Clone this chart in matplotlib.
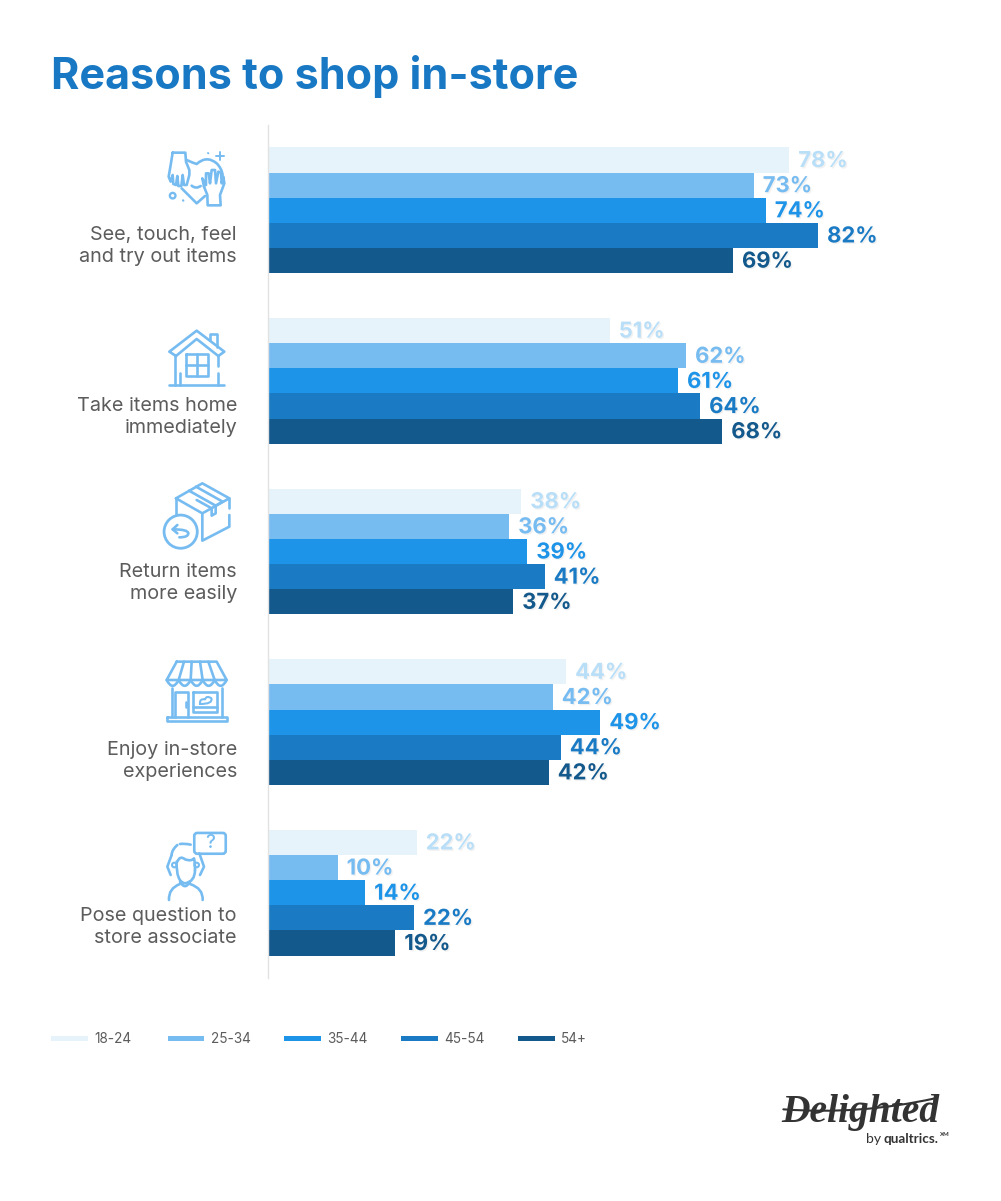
import matplotlib
matplotlib.use("Agg")
import matplotlib.pyplot as plt
import matplotlib.patheffects as pe
from matplotlib.patches import Circle, FancyBboxPatch, Rectangle, PathPatch
from matplotlib.path import Path
import numpy as np

# === Data === #
categories = ["See, touch, feel\nand try out items", "Take items home\nimmediately",
              "Return items\nmore easily", "Enjoy in-store\nexperiences",
              "Pose question to\nstore associate"]
age_groups = ["18-24", "25-34", "35-44", "45-54", "54+"]
# printed labels
pct_18_24 = [78, 51, 38, 44, 22]
pct_25_34 = [73, 62, 36, 42, 10]
pct_35_44 = [74, 61, 39, 49, 14]
pct_45_54 = [82, 64, 41, 44, 22]
pct_54_up = [69, 68, 37, 42, 19]
labels = [pct_18_24, pct_25_34, pct_35_44, pct_45_54, pct_54_up]
# bar lengths as drawn in the picture (they differ a little from the printed labels)
bar_18_24 = [77.8, 51.0, 37.8, 44.5, 22.2]
bar_25_34 = [72.5, 62.4, 36.0, 42.5, 10.4]
bar_35_44 = [74.3, 61.2, 38.7, 49.6, 14.5]
bar_45_54 = [82.1, 64.5, 41.3, 43.7, 21.8]
bar_54_up = [69.4, 67.8, 36.6, 41.9, 19.0]
bars = [bar_18_24, bar_25_34, bar_35_44, bar_45_54, bar_54_up]

bar_colors = ["#e6f3fb", "#77bcf1", "#1e94e8", "#1a7bc4", "#14598c"]
text_colors = ["#b9dff8", "#77bcf1", "#1e94e8", "#1a7bc4", "#14598c"]
ICON = "#77bcf1"
GREY = "#5c5c5c"
W, H = 1001, 1201
PX = 100 / 72  # pixels per point at dpi 100

plt.rcParams["font.family"] = ["Inter", "DejaVu Sans"]
fig = plt.figure(figsize=(W / 100, H / 100), dpi=100, facecolor="white")

# === Bars === #
ax = fig.add_axes([268 / W, 1 - 978 / H, (W - 268) / W, 853 / H])
ax.set_xlim(0, (W - 268) / 6.7)
ax.set_ylim(4.5, -0.5)
bar_h = 25.15 / (853 / 5)
y_pos = np.arange(len(categories))
for i, vals in enumerate(bars):
    y = y_pos + (i - 2) * bar_h
    ax.barh(y, vals, height=bar_h, color=bar_colors[i], linewidth=0)
    for yy, v, lab in zip(y, vals, labels[i]):
        ax.annotate(f"{lab}%", (v, yy), xytext=(9, -1), textcoords="offset pixels",
                    ha="left", va="center", color=text_colors[i], fontsize=22 / PX,
                    fontweight="bold",
                    path_effects=[pe.withSimplePatchShadow(offset=(1, -1), alpha=0.10,
                                                           shadow_rgbFace="#777777")])
for s in ["top", "right", "bottom"]:
    ax.spines[s].set_visible(False)
ax.spines["left"].set_color("#e2e2e2")
ax.spines["left"].set_linewidth(1.0)
ax.set_xticks([])
ax.set_yticks([])
ax.patch.set_alpha(0)

# === Overlay in pixel units for text and icons === #
ov = fig.add_axes([0, 0, 1, 1])
ov.set_xlim(0, W)
ov.set_ylim(H, 0)
ov.axis("off")
ov.patch.set_alpha(0)

ov.text(51, 89, "Reasons to shop in-store", fontsize=43.1 / PX, fontweight="bold",
        color="#1878c4", ha="left", va="baseline")

label_y = [246, 417, 583, 761, 927]
for lab, ly in zip(categories, label_y):
    ov.text(237, ly, lab, ha="right", va="center", fontsize=19.8 / PX, color=GREY,
            linespacing=1.28, multialignment="right")

# Legend
leg_x = [51, 167.5, 284, 401, 518]
for x, lab, c in zip(leg_x, age_groups, bar_colors):
    ov.add_patch(Rectangle((x, 1035.5), 36.5, 5.5, color=c, linewidth=0))
    ov.text(x + 43, 1039, lab, ha="left", va="center", fontsize=13.6 / PX, color=GREY)


def line(pts, ox, oy, closed=False, lw=1.9, color=ICON):
    # pts were read in 3x zoom coordinates
    xs = [ox + p[0] / 3 for p in pts]
    ys = [oy + p[1] / 3 for p in pts]
    if closed:
        xs.append(xs[0])
        ys.append(ys[0])
    ov.plot(xs, ys, color=color, lw=lw, solid_capstyle="round", solid_joinstyle="round")


def curve(pts, ox, oy, lw=1.9, color=ICON):
    # quadratic chain: start, ctrl, end, ctrl, end ...
    verts = [(ox + p[0] / 3, oy + p[1] / 3) for p in pts]
    codes = [Path.MOVETO] + [Path.CURVE3] * (len(verts) - 1)
    ov.add_patch(PathPatch(Path(verts, codes), fill=False, edgecolor=color, lw=lw,
                           capstyle="round", joinstyle="round"))


# Icon: hands + heart
ox, oy = 40, 120
line([(398, 98), (436, 98), (438, 125), (448, 150), (448, 165), (440, 195), (432, 195),
      (428, 165), (424, 198), (415, 198), (412, 168), (408, 195), (400, 192), (398, 165),
      (392, 185), (386, 170), (392, 135), (398, 98)], ox, oy)
curve([(440, 120), (462, 130), (470, 132), (500, 105), (530, 130), (545, 145), (548, 165)], ox, oy)
line([(425, 205), (470, 250), (495, 228)], ox, oy)
line([(492, 200), (487, 175), (498, 195), (498, 160), (506, 160), (510, 190), (515, 150),
      (525, 150), (528, 190), (535, 155), (543, 158), (545, 190), (550, 170), (553, 190),
      (540, 225), (542, 256), (503, 256), (502, 225), (492, 200)], ox, oy)
curve([(455, 197), (468, 208), (482, 198)], ox, oy)
line([(540, 95), (540, 120)], ox, oy, lw=1.4)
line([(527, 107), (553, 107)], ox, oy, lw=1.4)
line([(504, 99), (505, 100)], ox, oy, lw=1.4)
line([(429, 241), (430, 242)], ox, oy, lw=1.6)
ov.add_patch(Circle((40 + 398 / 3, 120 + 227 / 3), 2.8, fill=False, edgecolor=ICON, lw=1.7))

# Icon: house
line([(408, 708), (388, 695), (470, 632), (553, 695), (535, 708), (470, 657), (408, 708)], ox, oy)
line([(510, 660), (510, 642), (532, 642), (532, 680)], ox, oy)
line([(405, 708), (405, 795)], ox, oy)
line([(421, 760), (421, 795)], ox, oy)
line([(533, 708), (533, 738)], ox, oy)
line([(533, 760), (533, 795)], ox, oy)
line([(388, 795), (553, 795)], ox, oy)
line([(437, 703), (503, 703), (503, 768), (437, 768)], ox, oy, closed=True)
line([(470, 703), (470, 768)], ox, oy)
line([(437, 736), (503, 736)], ox, oy)

# Icon: box with return arrow
oy = 480
line([(408, 55), (487, 10), (568, 55), (487, 100)], ox, oy, closed=True)
line([(408, 55), (408, 105)], ox, oy)
line([(487, 100), (487, 182), (568, 140), (568, 105)], ox, oy)
line([(568, 85), (568, 55)], ox, oy)
line([(447, 32), (527, 77), (527, 100), (515, 107), (515, 85), (470, 60)], ox, oy)
line([(468, 20), (548, 65), (527, 77)], ox, oy)
ov.add_patch(Circle((40 + 422 / 3, 480 + 155 / 3), 16.6, facecolor="white", edgecolor=ICON, lw=2, zorder=3))
line([(412, 135), (398, 148), (412, 160)], ox, oy)
ov.lines[-1].set_zorder(4)
curve([(398, 148), (445, 148), (445, 160), (445, 172), (418, 172)], ox, oy)
ov.patches[-1].set_zorder(4)

# Icon: store front
line([(410, 545), (530, 545), (560, 600), (380, 600)], ox, oy, closed=True)
for xt, xb in [(432, 416), (455, 452), (480, 488), (505, 524)]:
    line([(xt, 545), (xb, 600)], ox, oy)
for xa in [380, 416, 452, 488, 524]:
    curve([(xa, 600), (xa + 18, 635), (xa + 36, 600)], ox, oy)
line([(395, 625), (395, 710)], ox, oy)
line([(545, 625), (545, 710)], ox, oy)
line([(380, 712), (560, 712), (560, 722), (380, 722)], ox, oy, closed=True)
line([(405, 710), (405, 636), (445, 636), (445, 710)], ox, oy)
line([(437, 665), (437, 680)], ox, oy)
line([(458, 636), (532, 636), (532, 695), (458, 695)], ox, oy, closed=True)
line([(458, 682), (532, 682)], ox, oy)
curve([(480, 672), (478, 655), (495, 658), (500, 645), (514, 655), (520, 672), (480, 672)], ox, oy, lw=1.5)

# Icon: person with speech bubble
oy = 820
ov.add_patch(FancyBboxPatch((40 + 470 / 3, 820 + 46 / 3), 80 / 3, 48 / 3, boxstyle="round,pad=2.4,rounding_size=3",
                            fill=False, edgecolor=ICON, lw=1.9))
ov.text(40 + 511 / 3, 820 + 70 / 3, "?", ha="center", va="center", fontsize=19 / PX, color=ICON, fontweight="medium")
curve([(412, 75), (395, 90), (395, 105)], ox, oy)
curve([(420, 72), (435, 70), (452, 74)], ox, oy)
line([(395, 105), (382, 140), (392, 165)], ox, oy)
line([(478, 100), (492, 140), (480, 165)], ox, oy)
curve([(412, 125), (420, 105), (435, 118), (455, 125), (462, 115), (465, 125), (465, 150)], ox, oy)
curve([(410, 125), (408, 185), (435, 190), (465, 185), (465, 150)], ox, oy)
ov.add_patch(Circle((40 + 403 / 3, 820 + 135 / 3), 2.3, fill=False, edgecolor=ICON, lw=1.5))
ov.add_patch(Circle((40 + 470 / 3, 820 + 135 / 3), 2.3, fill=False, edgecolor=ICON, lw=1.5))
curve([(420, 185), (435, 212), (450, 185)], ox, oy)
curve([(387, 240), (385, 205), (420, 192)], ox, oy)
curve([(488, 240), (490, 205), (450, 192)], ox, oy)

# Logo
ov.text(781, 1122, "Delighted", ha="left", va="baseline", fontsize=39.5 / PX, color="#333333",
        family=["Liberation Serif"], fontweight="bold", fontstyle="italic")
curve([(70, 118), (300, 135), (525, 85)], 760, 1070, lw=1.5, color="#333333")
ov.text(866, 1143, "by", ha="left", va="baseline", fontsize=14 / PX, color="#333333",
        family=["Lato"])
ov.text(883, 1143, "qualtrics.", ha="left", va="baseline", fontsize=13.5 / PX, color="#333333",
        family=["Lato"], fontweight="bold")
ov.text(939.5, 1136, "XM", ha="left", va="baseline", fontsize=6 / PX, color="#333333",
        family=["Lato"], fontweight="bold")

fig.savefig("out.png", dpi=100, facecolor="white")
